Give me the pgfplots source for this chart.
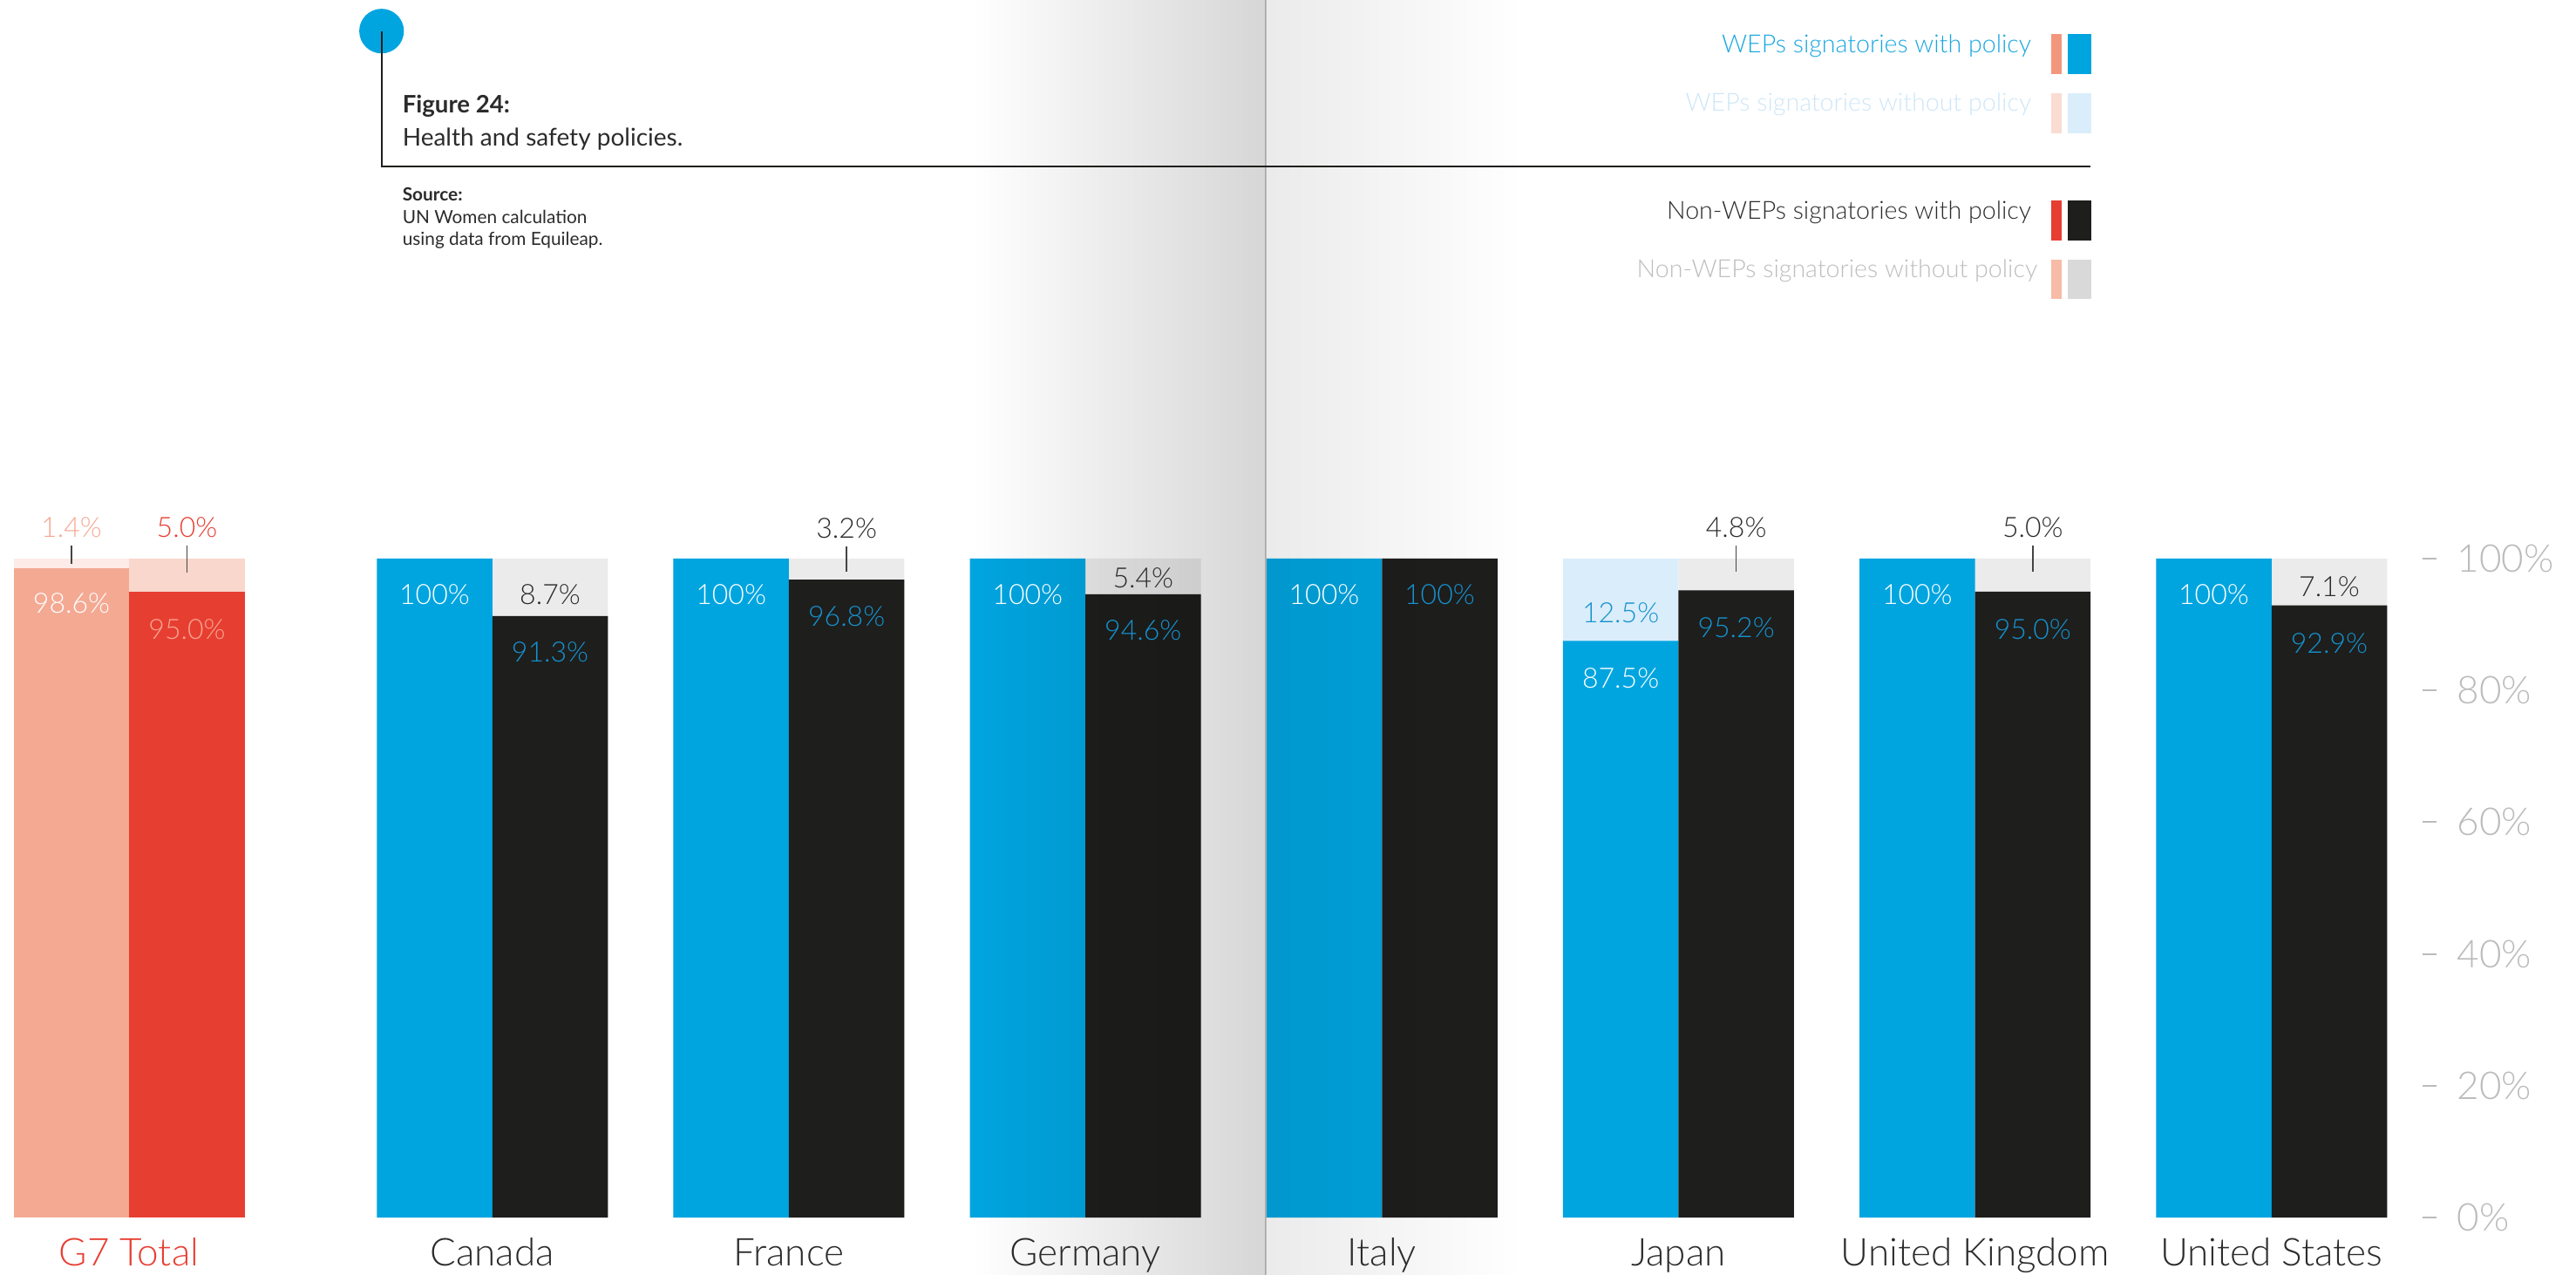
\documentclass[border=0pt]{standalone}
\usepackage{fontspec}
\setmainfont{Lato}
\newfontfamily\lt{Lato Light}
\usepackage{pgfplots}
\usepackage{pgfplotstable}
\pgfplotsset{compat=1.18}
\definecolor{wblue}{HTML}{00A5E0}
\definecolor{wbluel}{HTML}{DAEDFA}
\definecolor{nblack}{HTML}{1E1E1C}
\definecolor{ngray}{HTML}{EBEBEB}
\definecolor{gsal}{HTML}{F4A993}
\definecolor{gsall}{HTML}{FCEBE6}
\definecolor{gred}{HTML}{E73E32}
\definecolor{gredl}{HTML}{FAD7CC}
\definecolor{labblue}{HTML}{1592CF}
\definecolor{dtext}{HTML}{2B2B2B}
\definecolor{tickgray}{HTML}{BBBBBB}
\definecolor{legblue}{HTML}{1AA7E0}
\definecolor{legbluel}{HTML}{CDE6F7}
\definecolor{leggray}{HTML}{BDBDBD}
\definecolor{swsal}{HTML}{F2977E}
\definecolor{swsall}{HTML}{FADCD2}
\definecolor{swsal2}{HTML}{F7BBA7}
\definecolor{swgray}{HTML}{D9D9D9}
\definecolor{leader}{HTML}{444444}
\definecolor{lightsal}{HTML}{F7A48F}

% WEPs signatories (left bar of each country)
\pgfplotstableread{
x y
498.5 100
838.7 100
1178.8 100
1519 100
1859.2 87.5
2199.4 100
2539.5 100
}\wepwith
% Non-WEPs signatories (right bar of each country)
\pgfplotstableread{
x y
631 91.3
971.2 96.8
1311.3 94.6
1651.5 100
1991.7 95.2
2331.9 95.0
2672 92.9
}\nonwith
% G7 total
\pgfplotstableread{
x y
82 98.6
}\gwep
\pgfplotstableread{
x y
214.5 95.0
}\gnon

\begin{document}
\begin{tikzpicture}
\path[use as bounding box] (0,0) rectangle (738.75bp,365.75bp);
\begin{axis}[at={(0,0)}, anchor=south west, scale only axis,
  width=738.75bp, height=365.75bp,
  xmin=0, xmax=2955, ymin=-8.730, ymax=184.788,
  hide axis, clip=false]
% full-height backgrounds (share without policy)
\addplot[ybar, bar width=132.5, bar shift=0pt, fill=wbluel, draw=none] table[x=x, y expr=100]{\wepwith};
\addplot[ybar, bar width=132.5, bar shift=0pt, fill=ngray, draw=none] table[x=x, y expr=100]{\nonwith};
\addplot[ybar, bar width=132.5, bar shift=0pt, fill=gsall, draw=none] table[x=x, y expr=100]{\gwep};
\addplot[ybar, bar width=132.5, bar shift=0pt, fill=gredl, draw=none] table[x=x, y expr=100]{\gnon};
% with policy
\addplot[ybar, bar width=132.5, bar shift=0pt, fill=wblue, draw=none] table[x=x, y=y]{\wepwith};
\addplot[ybar, bar width=132.5, bar shift=0pt, fill=nblack, draw=none] table[x=x, y=y]{\nonwith};
\addplot[ybar, bar width=132.5, bar shift=0pt, fill=gsal, draw=none] table[x=x, y=y]{\gwep};
\addplot[ybar, bar width=132.5, bar shift=0pt, fill=gred, draw=none] table[x=x, y=y]{\gnon};
% y ticks
\pgfplotsinvokeforeach{0,20,40,60,80,100}{
  \draw[tickgray, line width=0.5bp] (axis cs:2779,#1) -- (axis cs:2795,#1);
  \node[anchor=west, text=tickgray, font={\lt\fontsize{11bp}{11bp}\selectfont}, inner sep=0pt] at (axis cs:2818,#1) {#1\%};
}
\end{axis}
% gutter shading of the scanned page (multiplied over everything)
\begin{scope}[x=0.25bp, y=-0.25bp, shift={(0,365.75bp)}, blend mode=multiply]
\shade[left color=white, right color=black!16, draw=none] (1115,0) rectangle (1452,1463);
\shade[left color=black!8, right color=white, draw=none] (1452,0) rectangle (1746,1463);
\draw[black!20, line width=0.6bp] (1452,0) -- (1452,1463);
\end{scope}
\begin{scope}[x=0.25bp, y=-0.25bp, shift={(0,365.75bp)},
  lab/.style={font={\lt\fontsize{8bp}{8bp}\selectfont}, inner sep=0pt},
  cat/.style={font={\lt\fontsize{11bp}{11bp}\selectfont}, anchor=base, inner sep=0pt, text=dtext},
  leg/.style={font={\lt\fontsize{7.15bp}{7.15bp}\selectfont}, anchor=base east, inner sep=0pt}]
% header
\fill[wblue] (437.7,35.7) circle[radius=6.4bp];
\draw[nblack, line width=0.7bp] (438,36) -- (438,191) -- (2398,191);
\node[anchor=base west, inner sep=0pt, text=dtext, font={\bfseries\fontsize{6.9bp}{7bp}\selectfont}] at (461,130) {Figure 24:};
\node[anchor=base west, inner sep=0pt, text=dtext, font={\fontsize{7bp}{7bp}\selectfont}] at (461,168) {Health and safety policies.};
\node[anchor=base west, inner sep=0pt, text=dtext, font={\bfseries\fontsize{5.2bp}{5.2bp}\selectfont}] at (461,231) {Source:};
\node[anchor=base west, inner sep=0pt, text=dtext, font={\fontsize{5.2bp}{5.2bp}\selectfont}] at (461,257) {UN Women calculation};
\node[anchor=base west, inner sep=0pt, text=dtext, font={\fontsize{5.2bp}{5.2bp}\selectfont}] at (461,282) {using data from Equileap.};
% legend
\node[leg, text=legblue] at (2331,61) {WEPs signatories with policy};
\fill[swsal] (2353,39) rectangle (2365,85); \fill[wblue] (2372,39) rectangle (2399,85);
\node[leg, text=legbluel] at (2331,128) {WEPs signatories without policy};
\fill[swsall] (2353,107) rectangle (2365,153); \fill[wbluel] (2372,107) rectangle (2399,153);
\node[leg, text=dtext] at (2331,252) {Non-WEPs signatories with policy};
\fill[gred] (2353,230) rectangle (2365,276); \fill[nblack] (2372,230) rectangle (2399,276);
\node[leg, text=leggray] at (2338,319) {Non-WEPs signatories without policy};
\fill[swsal2] (2353,298) rectangle (2365,343); \fill[swgray] (2372,298) rectangle (2399,343);
% category labels
\node[cat, text=gred] at (148,1453) {G7 Total};
\node[cat] at (564.75,1453) {Canada};
\node[cat] at (904.95,1453) {France};
\node[cat] at (1245.05,1453) {Germany};
\node[cat] at (1585.25,1453) {Italy};
\node[cat] at (1925.45,1453) {Japan};
\node[cat] at (2265.65,1453) {United Kingdom};
\node[cat] at (2605.75,1453) {United States};
% leader lines
\draw[leader, line width=0.35bp] (82,626) -- (82,647);
\draw[leader, line width=0.35bp] (214.5,626) -- (214.5,657);
\draw[leader, line width=0.35bp] (971.2,627) -- (971.2,656);
\draw[leader, line width=0.35bp] (1991.7,626) -- (1991.7,656);
\draw[leader, line width=0.35bp] (2331.9,626) -- (2331.9,656);
% value labels
\node[lab, text=gsal] at (82,605) {1.4\%};
\node[lab, text=gred] at (214.5,605) {5.0\%};
\node[lab, text=white] at (82,692) {98.6\%};
\node[lab, text=lightsal] at (214.5,722) {95.0\%};
\node[lab, text=white] at (498.5,682) {100\%};
\node[lab, text=dtext] at (631,682) {8.7\%};
\node[lab, text=labblue] at (631,748) {91.3\%};
\node[lab, text=white] at (838.7,682) {100\%};
\node[lab, text=dtext] at (971.2,606) {3.2\%};
\node[lab, text=labblue] at (971.2,707) {96.8\%};
\node[lab, text=white] at (1178.8,682) {100\%};
\node[lab, text=dtext] at (1311.3,663) {5.4\%};
\node[lab, text=labblue] at (1311.3,723) {94.6\%};
\node[lab, text=white] at (1519,682) {100\%};
\node[lab, text=labblue] at (1651.5,682) {100\%};
\node[lab, text=labblue] at (1859.2,703) {12.5\%};
\node[lab, text=white] at (1859.2,778) {87.5\%};
\node[lab, text=dtext] at (1991.7,605) {4.8\%};
\node[lab, text=labblue] at (1991.7,720) {95.2\%};
\node[lab, text=white] at (2199.4,682) {100\%};
\node[lab, text=dtext] at (2331.9,605) {5.0\%};
\node[lab, text=labblue] at (2331.9,722) {95.0\%};
\node[lab, text=white] at (2539.5,682) {100\%};
\node[lab, text=dtext] at (2672,673) {7.1\%};
\node[lab, text=labblue] at (2672,738) {92.9\%};
\end{scope}
\end{tikzpicture}
\end{document}
